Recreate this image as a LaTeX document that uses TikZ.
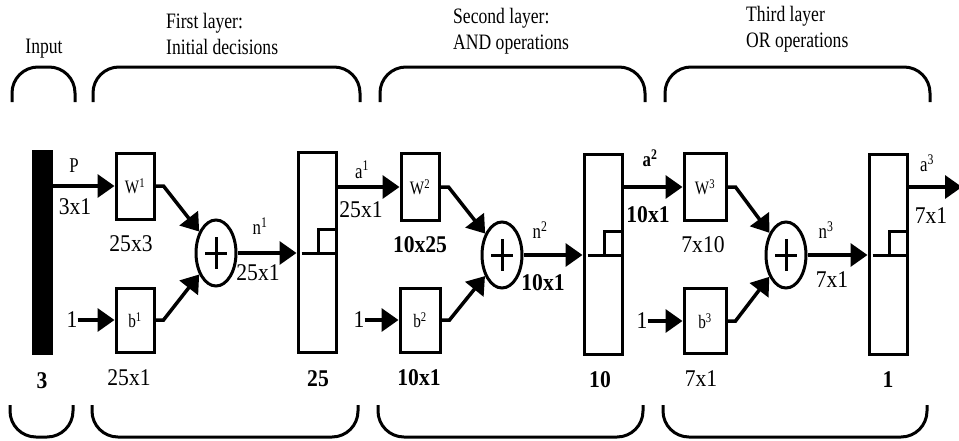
\documentclass[tikz,border=0pt]{standalone}
\usepackage{fontspec}
\setmainfont{Liberation Serif}[FakeStretch=0.8]
\newfontfamily\numfont{Liberation Serif}[FakeStretch=0.9]
\usetikzlibrary{arrows.meta,calc,shapes.geometric}
\tikzset{
  blk/.style={draw,line width=3pt,minimum width=38pt,inner sep=0pt,font=\fontsize{19}{20}\selectfont},
  wbox/.style={blk,minimum height=66pt},
  bbox/.style={blk,minimum height=64pt},
  tbox/.style={blk,minimum height=200pt},
  sumn/.style={draw,ellipse,line width=3pt,minimum width=40pt,minimum height=66pt,inner sep=0pt},
  arr/.style={-{Triangle[length=17pt,width=23pt]},line width=3.5pt},
  brk/.style={line width=3pt,rounded corners=26pt},
  stepln/.style={line width=3pt},
  ttl/.style={font=\fontsize{22}{26}\selectfont,align=left,anchor=north west,inner sep=0pt},
  dim/.style={font=\numfont\fontsize{24}{26}\selectfont,inner sep=0pt},
  sym/.style={font=\fontsize{21}{22}\selectfont,inner sep=0pt},
}
\begin{document}
\begin{tikzpicture}[x=1pt,y=-1pt]
\useasboundingbox (0,0) rectangle (959,440);
\node[font=\fontsize{22}{26}\selectfont,inner sep=0pt] (tin) at (44,49) {Input};
\node[ttl] (t1) at (166,13) {First layer:\\Initial decisions};
\node[ttl] (t2) at (453,8) {Second layer:\\AND operations};
\node[ttl] (t3) at (746,6) {Third layer\\OR operations};
\foreach \l/\r in {12/75,93/360,380/645,665/930} \draw[brk] (\l,102)--(\l,67)--(\r,67)--(\r,102);
\foreach \l/\r in {10/73,92/358,378/643,663/927} \draw[brk] (\l,405)--(\l,437)--(\r,437)--(\r,405);
\node[fill,minimum width=21pt,minimum height=205pt,inner sep=0pt] (inp) at (42.5,252.5) {};
\node[wbox] (W1) at (135,186) {W\textsuperscript{1}};
\node[bbox] (b1) at (135,320) {b\textsuperscript{1}};
\node[sumn] (sum1) at (216,253) {};
\node[tbox] (box1) at (317,252) {};
\node[wbox,minimum height=67pt] (W2) at (420,187) {W\textsuperscript{2}};
\node[bbox,minimum width=40pt] (b2) at (420,320) {b\textsuperscript{2}};
\node[sumn] (sum2) at (502,255) {};
\node[tbox] (box2) at (603,254) {};
\node[wbox,minimum width=42pt,minimum height=67pt] (W3) at (705,187) {W\textsuperscript{3}};
\node[bbox,minimum width=42pt,minimum height=65pt] (b3) at (705,321) {b\textsuperscript{3}};
\node[sumn] (sum3) at (786,255) {};
\node[tbox] (box3) at (888,254) {};
\coordinate (out) at (962,187);
\node[dim] (one1) at (72,320) {1};
\node[dim] (one2) at (359,320) {1};
\node[dim] (one3) at (642,321) {1};
\node[sym] (P) at (74,166) {P};
\node[dim] (d1) at (75,207) {3x1};
\node[dim] (d2) at (131,244) {25x3};
\node[sym] (n1) at (260,226) {n\textsuperscript{1}};
\node[dim] (d3) at (258,273) {25x1};
\node[sym] (a1) at (362,170) {a\textsuperscript{1}};
\node[dim] (d4) at (361,210) {25x1};
\node[dim,font=\numfont\bfseries\fontsize{24}{26}\selectfont] (d5) at (420,245) {10x25};
\node[sym] (n2) at (540,230) {n\textsuperscript{2}};
\node[dim,font=\numfont\bfseries\fontsize{24}{26}\selectfont] (d6) at (543,283) {10x1};
\node[sym,font=\bfseries\fontsize{21}{22}\selectfont] (a2) at (650,158) {a\textsuperscript{2}};
\node[dim,font=\numfont\bfseries\fontsize{24}{26}\selectfont] (d7) at (648,215) {10x1};
\node[dim] (d8) at (703,245) {7x10};
\node[sym] (n3) at (826,230) {n\textsuperscript{3}};
\node[dim] (d9) at (832,280) {7x1};
\node[sym] (a3) at (927,163) {a\textsuperscript{3}};
\node[dim] (d10) at (931,216) {7x1};
\node[dim,font=\numfont\bfseries\fontsize{24}{26}\selectfont] (s0) at (42,381) {3};
\node[dim] (s1) at (129,378) {25x1};
\node[dim,font=\numfont\bfseries\fontsize{24}{26}\selectfont] (s2) at (318,379) {25};
\node[dim,font=\numfont\bfseries\fontsize{24}{26}\selectfont] (s3) at (419,378) {10x1};
\node[dim,font=\numfont\bfseries\fontsize{24}{26}\selectfont] (s4) at (600,380) {10};
\node[dim] (s5) at (701,379) {7x1};
\node[dim,font=\numfont\bfseries\fontsize{24}{26}\selectfont] (s6) at (888,380) {1};
\draw[arr] (inp.east |- W1) -- (W1);
\draw[arr] (box1.east |- W2) -- (W2);
\draw[arr] (box2.east |- W3) -- (W3);
\draw[arr] (box3.east |- W3) -- (out);
\foreach \i in {1,2,3} {
  \draw[arr] (one\i) -- (b\i.west |- one\i);
  \draw[arr] (W\i.east) -- ++(8,0) -- (sum\i);
  \draw[arr] (b\i.east) -- ++(8,0) -- (sum\i);
  \draw[arr] (sum\i) -- (box\i.west |- sum\i);
  \draw[line width=3pt] ($(sum\i)+(-11,0)$) -- ($(sum\i)+(11,0)$) ($(sum\i)+(0,-16)$) -- ($(sum\i)+(0,16)$);
  \draw[stepln] ($(box\i.west |- sum\i)+(5,0)$) -- ($(box\i.east |- sum\i)+(-3,0)$)
    ($(box\i.center |- sum\i)+(1,0)$) -- ++(0,-24) -- ($(box\i.east |- sum\i)+(-3,-24)$);
}
\end{tikzpicture}
\end{document}
